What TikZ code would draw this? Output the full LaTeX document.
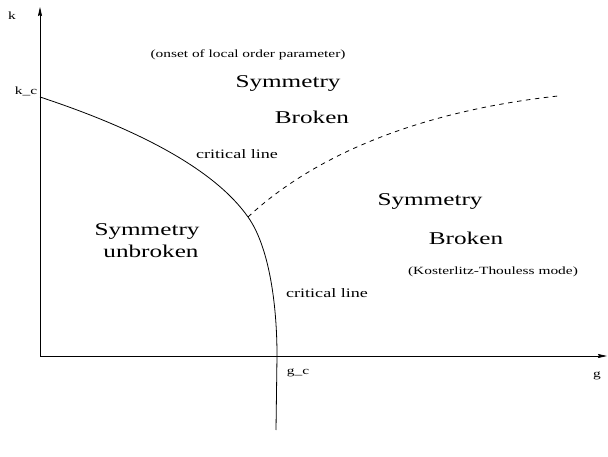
\documentclass[tikz,border=0pt]{standalone}
\usepackage{fontspec}
\setmainfont{Liberation Serif}
\usetikzlibrary{arrows.meta}
\newcommand{\stretchtxt}[2][1.4]{\scalebox{#1}[1]{#2}}
\begin{document}
\begin{tikzpicture}[x=1pt,y=-1pt,
  big/.style={font=\fontsize{18}{20}\selectfont, inner sep=0pt},
  small/.style={font=\fontsize{11}{13}\selectfont, inner sep=0pt},
  mid/.style={font=\fontsize{12.9}{15}\selectfont, inner sep=0pt},
  axis/.style={line width=0.8pt, -{Stealth[length=9pt,width=4pt,inset=1pt]}},
  curve/.style={line width=0.8pt},
  dashcurve/.style={line width=0.8pt, dash pattern=on 4.5pt off 4.5pt}]
\useasboundingbox (0,0) rectangle (608,457);
% axes
\coordinate (O) at (40,356);
\coordinate (ytop) at (40,7);
\coordinate (xend) at (607,356);
\draw[axis] (O) -- (ytop);
\draw[axis] (O) -- (xend);
% critical line (solid)
\coordinate (kc) at (40,97);
\coordinate (junction) at (248,217);
\coordinate (gc) at (277,356);
\coordinate (bottom) at (276,430);
\draw[curve] (kc) .. controls (140,130) and (215,170) .. (junction)
  .. controls (268,245) and (277,300) .. (gc) -- (bottom);
% dashed line
\coordinate (dend) at (558,96);
\draw[dashcurve] (junction) .. controls (320,150) and (430,110) .. (dend);
% labels
\node[small] (lk) at (12,16) {\stretchtxt{k}};
\node[small] (lkc) at (26,91) {\stretchtxt{k\_c}};
\node[small] (lg) at (597,376) {\stretchtxt{g}};
\node[small] (lgc) at (298,373) {\stretchtxt{g\_c}};
\node[small] (onset) at (248,55) {\stretchtxt{(onset of local order parameter)}};
\node[big] (sym1) at (288,83) {\stretchtxt{Symmetry}};
\node[big] (brk1) at (312,117) {\stretchtxt{Broken}};
\node[mid] (crit1) at (237,154) {\stretchtxt{critical line}};
\node[big] (sym2) at (147,231) {\stretchtxt{Symmetry}};
\node[big] (unbrk) at (151,251) {\stretchtxt{unbroken}};
\node[big] (sym3) at (430,201) {\stretchtxt{Symmetry}};
\node[big] (brk2) at (466,238) {\stretchtxt{Broken}};
\node[small] (kt) at (493,272) {\stretchtxt{(Kosterlitz-Thouless mode)}};
\node[mid] (crit2) at (327,293) {\stretchtxt{critical line}};
\end{tikzpicture}
\end{document}
